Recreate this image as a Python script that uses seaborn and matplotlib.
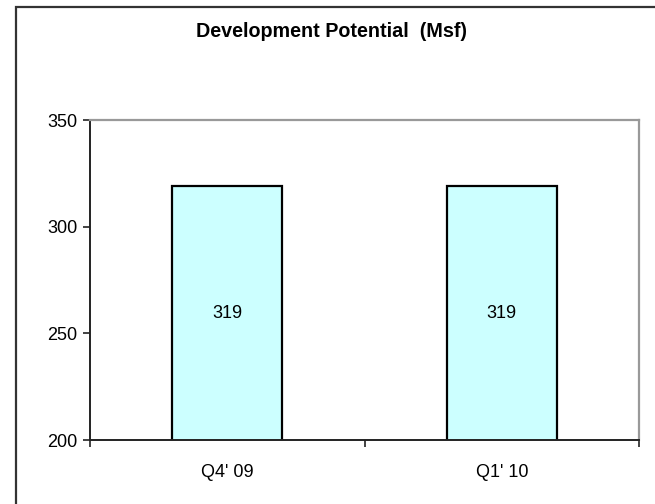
import matplotlib as mpl
import matplotlib.pyplot as plt
from matplotlib.patches import Rectangle
import pandas as pd
import seaborn as sns

quarters = ["Q4' 09", "Q1' 10"]
potential_msf = [319, 319]
y_ticks = [200, 250, 300, 350]

BAR_FILL = "#CCFFFF"


def main() -> None:
    sns.set_style("white")
    mpl.rcParams.update({
        "font.family": ["Liberation Sans", "DejaVu Sans"],
        "font.size": 13,
        "text.color": "black",
        "xtick.color": "black",
        "ytick.color": "black",
    })

    fig = plt.figure(figsize=(6.55, 5.04), dpi=100)
    ax = fig.add_axes([90 / 655, 64 / 504, 549 / 655, 320 / 504])

    df = pd.DataFrame({"quarter": quarters, "msf": potential_msf})
    sns.barplot(data=df, x="quarter", y="msf", color=BAR_FILL, width=0.4,
                edgecolor="black", linewidth=1.6, saturation=1, ax=ax)

    ax.set_ylim(min(y_ticks), max(y_ticks))
    ax.set_xlim(-0.5, len(quarters) - 0.5)
    ax.set_yticks(y_ticks)
    ax.set_xlabel("")
    ax.set_ylabel("")

    # category boundaries carry the tick marks, labels sit in between
    ax.set_xticks([i - 0.5 for i in range(len(quarters) + 1)], minor=True)
    ax.tick_params(axis="x", which="major", length=0, pad=17, labelsize=13, labelcolor="black")
    ax.tick_params(axis="x", which="minor", direction="out", length=5, width=1.2, color="#222222", bottom=True)
    ax.tick_params(axis="y", direction="out", length=5, width=1.2, color="#222222", left=True, pad=4,
                   labelsize=13, labelcolor="black")

    for side in ("left", "bottom"):
        ax.spines[side].set_color("#222222")
        ax.spines[side].set_linewidth(1.4)
    for side in ("top", "right"):
        ax.spines[side].set_color("#999999")
        ax.spines[side].set_linewidth(1.6)

    for container in ax.containers:
        ax.bar_label(container, label_type="center", fontsize=13, color="black")

    fig.text(331 / 655, 1 - 37 / 504, "Development Potential  (Msf)",
             ha="center", va="baseline", fontsize=14.2, fontweight="bold", color="black")

    # chart frame: only left and top edges fall inside the image
    fig.add_artist(Rectangle((16 / 655, -0.1), 1.2, 1.1 - 7 / 504, transform=fig.transFigure,
                             fill=False, edgecolor="#333333", linewidth=1.6))

    fig.savefig("out.png", dpi=100, facecolor="white")
    plt.close(fig)


if __name__ == "__main__":
    main()
